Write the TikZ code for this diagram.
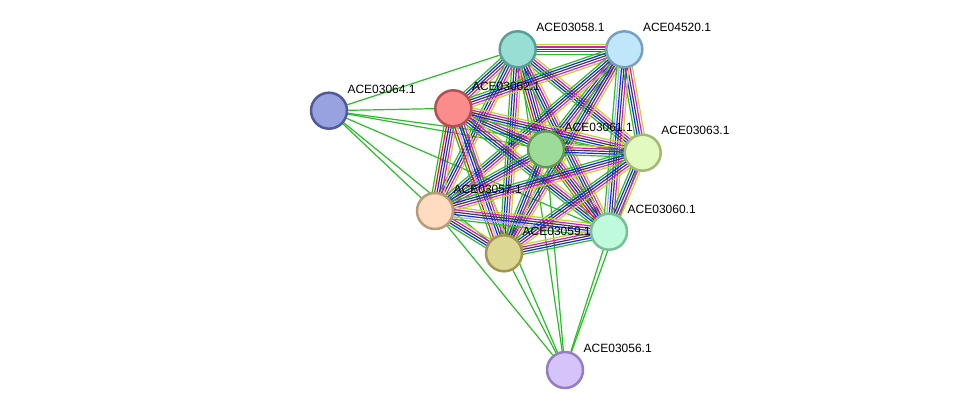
\documentclass[tikz,border=0pt]{standalone}
\usepackage{fontspec}
\setmainfont{Liberation Sans}
\usetikzlibrary{calc}
\pgfdeclarelayer{bg}
\pgfsetlayers{bg,main}
\definecolor{eg}{RGB}{40,190,40}
\definecolor{er}{RGB}{240,20,20}
\definecolor{eb}{RGB}{20,40,240}
\definecolor{el}{RGB}{170,170,250}
\definecolor{ek}{RGB}{60,60,60}
\definecolor{em}{RGB}{215,20,215}
\definecolor{ey}{RGB}{195,210,40}
\tikzset{
  nd/.style={circle, inner sep=0pt, minimum size=36pt, line width=2.5pt},
  lbl/.style={anchor=west, inner sep=0pt, font=\fontsize{12}{14}\selectfont},
  edge/.style={line width=1.2pt},
}
\newcommand\bund[3]{%
  \foreach \c [count=\i] in {#3} {\xdef\nbund{\i}}%
  \foreach \c [count=\i] in {#3} {%
    \pgfmathsetmacro\off{(\i-(\nbund+1)/2)*2.4}%
    \draw[edge, \c] ($(#1)!\off pt!90:(#2)$) -- ($(#2)!\off pt!-90:(#1)$);
  }%
}
\begin{document}
\begin{tikzpicture}[x=1pt, y=-1pt]
\useasboundingbox (0,0) rectangle (976,415);
% nodes
\node[nd, fill={rgb,255:red,152;green,222;blue,212}, draw={rgb,255:red,88;green,160;blue,150}] (n58) at (517.7,49.3) {};
\node[nd, fill={rgb,255:red,192;green,230;blue,250}, draw={rgb,255:red,120;green,160;blue,190}] (n4520) at (624.3,49.3) {};
\node[nd, fill={rgb,255:red,152;green,162;blue,225}, draw={rgb,255:red,80;green,90;blue,150}] (n64) at (329,110.7) {};
\node[nd, fill={rgb,255:red,250;green,140;blue,140}, draw={rgb,255:red,180;green,80;blue,80}] (n62) at (453.3,108.3) {};
\node[nd, fill={rgb,255:red,157;green,220;blue,152}, draw={rgb,255:red,100;green,150;blue,90}] (n61) at (546,149.3) {};
\node[nd, fill={rgb,255:red,226;green,250;blue,192}, draw={rgb,255:red,160;green,185;blue,120}] (n63) at (642.7,152.7) {};
\node[nd, fill={rgb,255:red,255;green,220;blue,192}, draw={rgb,255:red,185;green,155;blue,120}] (n57) at (435,211) {};
\node[nd, fill={rgb,255:red,220;green,215;blue,147}, draw={rgb,255:red,160;green,150;blue,80}] (n59) at (504,253.3) {};
\node[nd, fill={rgb,255:red,192;green,250;blue,220}, draw={rgb,255:red,120;green,190;blue,150}] (n60) at (609,231.7) {};
\node[nd, fill={rgb,255:red,212;green,196;blue,250}, draw={rgb,255:red,150;green,125;blue,195}] (n56) at (565,370) {};
% labels
\node[lbl] (l58) at (536.2,27.3) {ACE03058.1};
\node[lbl] (l4520) at (642.8,27.3) {ACE04520.1};
\node[lbl] (l64) at (347.3,89) {ACE03064.1};
\node[lbl] (l62) at (471.8,86.5) {ACE03062.1};
\node[lbl] (l61) at (564.5,127.5) {ACE03061.1};
\node[lbl] (l63) at (661.2,130.8) {ACE03063.1};
\node[lbl] (l57) at (453.5,189) {ACE03057.1};
\node[lbl] (l59) at (522.5,231.5) {ACE03059.1};
\node[lbl] (l60) at (627.5,209.8) {ACE03060.1};
\node[lbl] (l56) at (583.5,348) {ACE03056.1};
\begin{pgfonlayer}{bg}
% peripheral green edges
\foreach \a/\b in {n64/n58, n64/n62, n64/n61, n64/n63, n64/n60, n64/n57, n64/n59,
                   n56/n57, n56/n62, n56/n59, n56/n58, n56/n61, n56/n60, n56/n63}
  \draw[edge, eg] (\a) -- (\b);
% core bundles
\bund{n58}{n4520}{eg,er,ek,em,ey}
\bund{n58}{n62}{eg,eb,ek,em,ey}
\bund{n58}{n61}{eg,er,eb,ek,em,ey}
\bund{n58}{n63}{eg,eb,ek,em,ey}
\bund{n58}{n57}{eg,eb,ek,em,ey}
\bund{n58}{n59}{eg,eb,ek,em,ey}
\bund{n58}{n60}{eg,eb,ek,em,ey}
\bund{n4520}{n62}{eg,eb,ek,em,ey}
\bund{n4520}{n61}{eg,eb,ek,em,ey}
\bund{n4520}{n63}{eg,eb,ek,em,ey}
\bund{n4520}{n57}{eg,eb,ek,em,ey}
\bund{n4520}{n59}{eg,eb,ek,em,ey}
\bund{n4520}{n60}{eg,el,eb,ek,em,ey}
\bund{n62}{n61}{eg,eb,ek,em,ey}
\bund{n62}{n63}{eg,eb,ek,em,ey}
\bund{n62}{n57}{eg,er,eb,ek,em,ey}
\bund{n62}{n59}{eg,er,el,eb,ek,em,ey}
\bund{n62}{n60}{eg,eb,ek,em,ey}
\bund{n61}{n63}{eg,eb,ek,em,ey}
\bund{n61}{n57}{eg,eb,ek,em,ey}
\bund{n61}{n59}{eg,eb,ek,em,ey}
\bund{n61}{n60}{eg,er,eb,ek,em,ey}
\bund{n63}{n57}{eg,eb,ek,em,ey}
\bund{n63}{n59}{eg,eb,ek,em,ey}
\bund{n63}{n60}{eg,eb,ek,em,ey}
\bund{n57}{n59}{eg,eb,ek,em,ey}
\bund{n57}{n60}{eg,el,eb,ek,em,ey}
\bund{n59}{n60}{eg,eb,ek,em,ey}
\end{pgfonlayer}
\end{tikzpicture}
\end{document}
